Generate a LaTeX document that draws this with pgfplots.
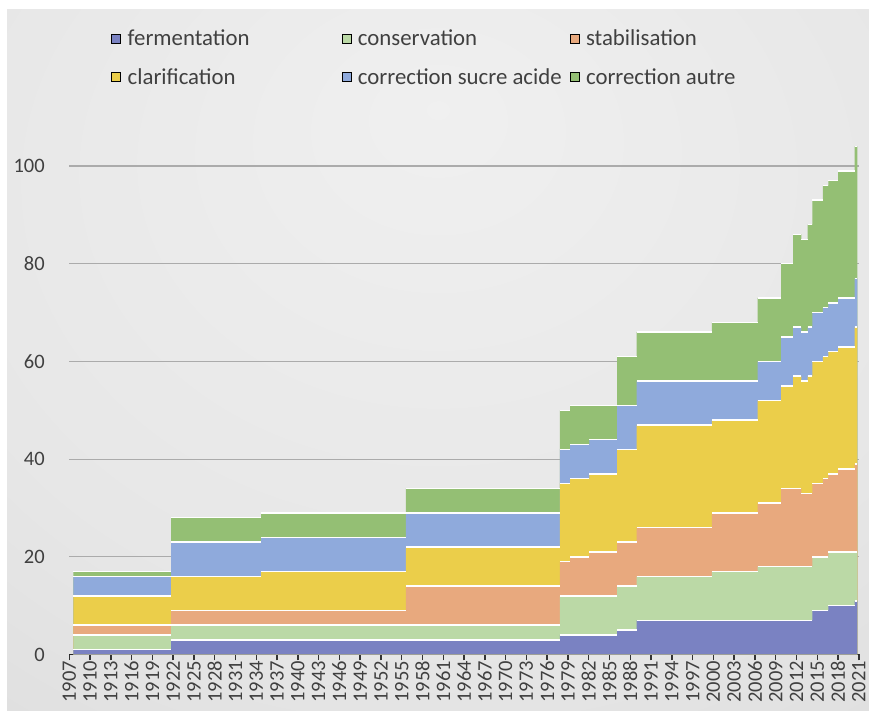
\documentclass[border=0pt]{standalone}
\usepackage{fontspec}
\setmainfont{Carlito}
\usepackage{pgfplots}
\usepackage{pgfplotstable}
\pgfplotsset{compat=1.18}

\definecolor{cferm}{HTML}{7A82C2}
\definecolor{ccons}{HTML}{BBD9A6}
\definecolor{cstab}{HTML}{E8A97E}
\definecolor{cclar}{HTML}{EBCE4A}
\definecolor{csucre}{HTML}{8FAADC}
\definecolor{cautre}{HTML}{94BF74}
\definecolor{ctxt}{HTML}{404040}

\pgfdeclareradialshading{bgshade}{\pgfpoint{0bp}{18bp}}{rgb(0bp)=(0.94,0.94,0.94); rgb(30bp)=(0.905,0.905,0.905); rgb(55bp)=(0.85,0.85,0.85); rgb(80bp)=(0.81,0.81,0.81)}

% series values (increments) for each step segment, x = start of segment
\pgfplotstableread{
x        ferm cons stab clar sucre autre
1907.6   1    3    2    6    4     1
1921.7   3    3    3    7    7     5
1934.7   3    3    3    8    7     5
1955.6   3    3    8    8    7     5
1977.85  4    8    7    16   7     8
1979.3   4    8    8    16   7     8
1982.1   4    8    9    16   7     7
1986.1   5    9    9    19   9     10
1988.9   7    9    10   21   9     10
1999.8   7    10   12   19   8     12
2006.4   7    11   13   21   8     13
2009.8   7    11   16   21   10    15
2011.5   7    11   16   23   10    19
2012.7   7    11   15   23   10    19
2013.6   7    11   15   24   10    21
2014.3   9    11   15   25   10    23
2015.8   9    11   16   25   10    25
2016.6   10   11   16   25   10    25
2018.0   10   11   17   25   10    26
2020.4   11   10   18   28   10    27
2020.8   11   10   18   28   10    27
}\data
\pgfplotstablecreatecol[expr={\thisrow{ferm}}]{t1}\data
\pgfplotstablecreatecol[expr={\thisrow{t1}+\thisrow{cons}}]{t2}\data
\pgfplotstablecreatecol[expr={\thisrow{t2}+\thisrow{stab}}]{t3}\data
\pgfplotstablecreatecol[expr={\thisrow{t3}+\thisrow{clar}}]{t4}\data
\pgfplotstablecreatecol[expr={\thisrow{t4}+\thisrow{sucre}}]{t5}\data
\pgfplotstablecreatecol[expr={\thisrow{t5}+\thisrow{autre}}]{t6}\data

\begin{document}
\begin{tikzpicture}[x=1pt,y=1pt]
\fill[white] (0,0) rectangle (869,711);
\shade[shading=bgshade] (7,0) rectangle (869,701);
\begin{axis}[
  at={(69.3pt,56.5pt)}, anchor=south west,
  scale only axis, width=789.5pt, height=512.9pt,
  xmin=1907, xmax=2021, ymin=0, ymax=105,
  axis lines*=left,
  x axis line style={draw=black!85, line width=1.8pt},
  y axis line style={draw=none},
  ytick={0,20,...,100},
  xtick={1907,1910,...,2021},
  ymajorgrids,
  grid style={draw=black!33, line width=1.2pt},
  ytick style={draw=none},
  xtick style={draw=black!80, line width=1.5pt},
  tick align=outside,
  major tick length=6pt,
  /pgf/number format/assume math mode=true,
  /pgf/number format/1000 sep={},
  tick label style={font=\fontsize{20.5}{20.5}\selectfont, text=ctxt},
  yticklabel style={xshift=-15pt},
  xticklabel style={rotate=90, anchor=east, inner sep=0.5pt},
  legend columns=3,
  legend image code/.code={\fill[#1] (0pt,-4.5pt) rectangle (9pt,4.5pt);},
  legend style={at={(axis description cs:0.053,1.222)}, anchor=north west,
    draw=none, fill=none, font=\fontsize{22.8}{22.8}\selectfont, text=ctxt,
    row sep=17pt, inner sep=0pt,
    /tikz/every odd column/.append style={column sep=5pt},
    /tikz/column 2/.style={column sep=90pt},
    /tikz/column 4/.style={column sep=6pt}},
  legend cell align=left,
]
\addplot[fill=cautre, draw=none, const plot, forget plot] table[x=x,y=t6]{\data} \closedcycle;
\addplot[fill=csucre, draw=none, const plot, forget plot] table[x=x,y=t5]{\data} \closedcycle;
\addplot[fill=cclar, draw=none, const plot, forget plot] table[x=x,y=t4]{\data} \closedcycle;
\addplot[fill=cstab, draw=none, const plot, forget plot] table[x=x,y=t3]{\data} \closedcycle;
\addplot[fill=ccons, draw=none, const plot, forget plot] table[x=x,y=t2]{\data} \closedcycle;
\addplot[fill=cferm, draw=none, const plot, forget plot] table[x=x,y=t1]{\data} \closedcycle;
\addplot[white, line width=1.5pt, jump mark left, forget plot] table[x=x,y=t1]{\data};
\addplot[white, line width=1.5pt, jump mark left, forget plot] table[x=x,y=t2]{\data};
\addplot[white, line width=1.5pt, jump mark left, forget plot] table[x=x,y=t3]{\data};
\addplot[white, line width=1.5pt, jump mark left, forget plot] table[x=x,y=t4]{\data};
\addplot[white, line width=1.5pt, jump mark left, forget plot] table[x=x,y=t5]{\data};
\addplot[white, line width=1.5pt, jump mark left, forget plot] table[x=x,y=t6]{\data};
\addlegendimage{fill=cferm}
\addlegendentry{fermentation}
\addlegendimage{fill=ccons}
\addlegendentry{conservation}
\addlegendimage{fill=cstab}
\addlegendentry{stabilisation}
\addlegendimage{fill=cclar}
\addlegendentry{clarification}
\addlegendimage{fill=csucre}
\addlegendentry{correction sucre acide}
\addlegendimage{fill=cautre}
\addlegendentry{correction autre}
\end{axis}
\end{tikzpicture}
\end{document}
